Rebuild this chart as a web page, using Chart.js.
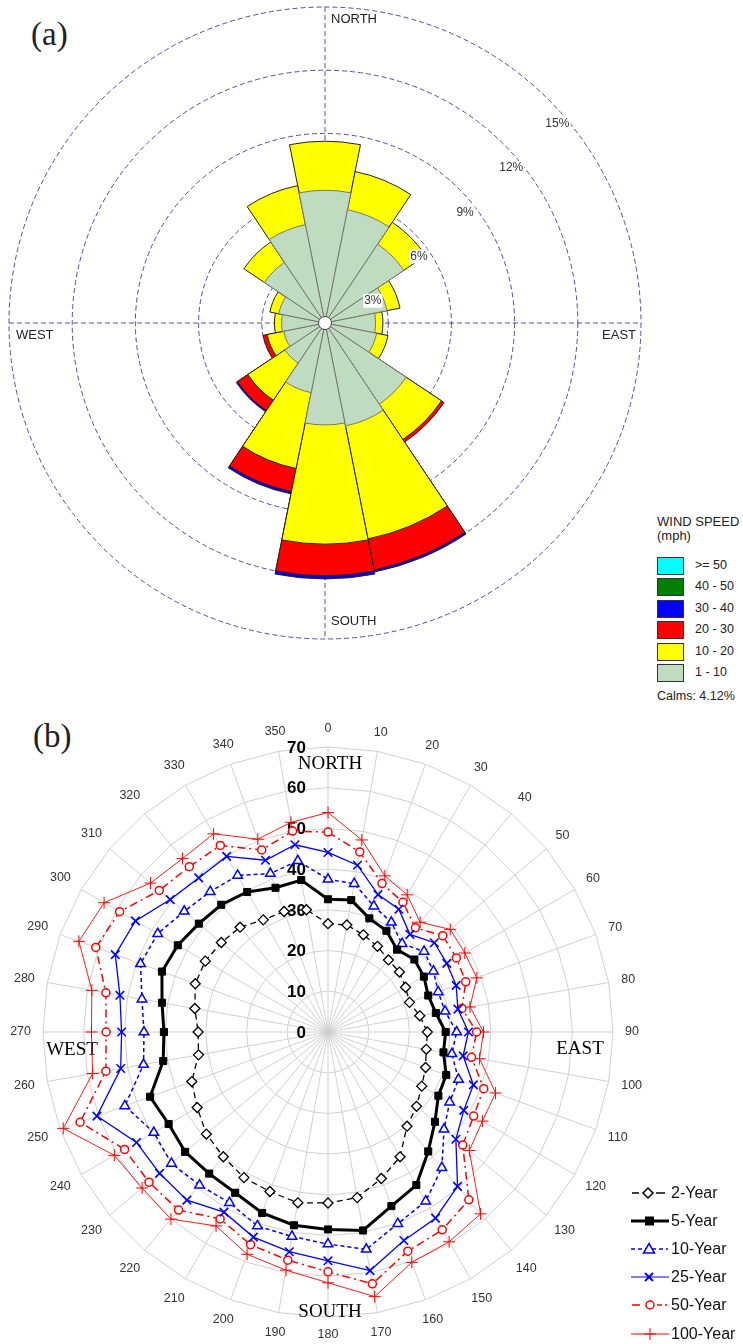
<!DOCTYPE html>
<html>
<head>
<meta charset="utf-8">
<script src="https://cdn.jsdelivr.net/npm/chart.js@4.4.1/dist/chart.umd.min.js"></script>
<style>
  body { margin: 0; width: 743px; height: 1344px; position: relative; overflow: hidden; background: #fff;
         font-family: "Liberation Sans", Arial, sans-serif; color: #222; }
  #roseChart { position: absolute; left: 0; top: 0; }
  #returnChart { position: absolute; left: 8px; top: 712px; }
  .tag { position: absolute; font-family: "Liberation Serif", "Times New Roman", serif; font-size: 33px; line-height: 33px; }
  .abs { position: absolute; white-space: nowrap; }
  .box { position: absolute; width: 25px; height: 16px; border: 1px solid #333; }
  #roseLegend { font-size: 13px; }
  #roseLegend .lab { font-size: 12.5px; }
  #periodLegend { font-size: 16px; color: #111; }
</style>
</head>
<body>
<div class="tag" style="left:31px; top:18px;">(a)</div>
<div class="tag" style="left:33px; top:720px;">(b)</div>

<canvas id="roseChart" width="650" height="646"></canvas>
<canvas id="returnChart" width="640" height="640"></canvas>

<div id="roseLegend"></div>
<div id="periodLegend"></div>

<script>
// ---- (a) wind rose, frequency in % per direction and speed bin ----
const roseDirections = ['N', 'NNE', 'NE', 'ENE', 'E', 'ESE', 'SE', 'SSE', 'S', 'SSW', 'SW', 'WSW', 'W', 'WNW', 'NW', 'NNW'];
const speed1to10  = [6.30, 5.48, 4.50, 3.00, 2.40, 2.50, 4.63, 4.98, 4.84, 3.37, 2.29, 2.00, 2.06, 2.24, 3.46, 4.76];
const speed10to20 = [2.33, 1.85, 1.25, 0.63, 0.35, 0.55, 2.02, 5.47, 5.66, 3.67, 2.12, 0.80, 0.34, 0.43, 1.17, 1.89];
const speed20to30 = [0, 0, 0, 0, 0, 0, 0.15, 1.50, 1.50, 1.12, 0.59, 0.20, 0, 0, 0, 0];
const speed30to40 = [0, 0, 0, 0, 0, 0, 0, 0.10, 0.15, 0.11, 0.07, 0, 0, 0, 0, 0];
const speed40to50 = [0, 0, 0, 0, 0, 0, 0, 0, 0, 0, 0, 0, 0, 0, 0, 0];
const speed50up   = [0, 0, 0, 0, 0, 0, 0, 0, 0, 0, 0, 0, 0, 0, 0, 0];
const speedLabels = ['1 - 10', '10 - 20', '20 - 30', '30 - 40', '40 - 50', '>= 50'];
const speedColors = ['#c0dcc0', '#ffff00', '#ff0000', '#0000ff', '#008000', '#00ffff'];
const calmsText = 'Calms: 4.12%';

// ---- (b) extreme wind speed per direction and return period ----
const angleLabels = ['0', '10', '20', '30', '40', '50', '60', '70', '80', '90', '100', '110',
  '120', '130', '140', '150', '160', '170', '180', '190', '200', '210', '220', '230',
  '240', '250', '260', '270', '280', '290', '300', '310', '320', '330', '340', '350'];
const year2   = [26.6, 26.7, 25.4, 24.3, 23.1, 22.9, 22.0, 21.3, 22.9, 24.4, 24.5, 25.5, 26.6, 28.4, 30.2, 35.4, 38.3, 41.3,
                 42.0, 42.6, 41.7, 41.3, 40.0, 39.0, 37.1, 35.6, 32.3, 31.9, 33.2, 34.7, 34.8, 34.2, 33.6, 31.8, 31.5, 30.5];
const year5   = [32.6, 32.9, 29.7, 28.7, 26.4, 27.7, 27.2, 26.2, 26.9, 28.9, 28.8, 30.9, 31.3, 34.3, 38.3, 43.4, 45.5, 49.5,
                 48.5, 48.2, 47.3, 45.6, 45.4, 45.8, 45.2, 46.5, 41.1, 40.3, 41.4, 43.4, 42.6, 41.4, 40.8, 39.7, 37.7, 37.9];
const year10  = [37.5, 37.0, 32.9, 31.1, 28.3, 30.8, 29.9, 28.8, 29.2, 31.6, 30.9, 34.1, 34.5, 37.2, 43.5, 48.0, 50.1, 54.2,
                 52.1, 51.0, 50.7, 48.4, 49.1, 50.2, 49.4, 53.1, 46.0, 45.2, 46.4, 49.0, 48.3, 46.1, 45.0, 44.4, 41.4, 42.7];
const year25  = [44.1, 41.6, 35.9, 34.8, 31.3, 34.1, 33.7, 33.5, 32.4, 34.5, 33.7, 38.0, 38.5, 41.0, 49.5, 52.8, 54.5, 59.5,
                 56.2, 54.8, 53.6, 51.1, 53.9, 54.0, 54.3, 60.4, 51.7, 50.7, 51.9, 55.6, 54.6, 50.6, 49.4, 49.8, 44.9, 46.7];
const year50  = [49.1, 44.9, 38.8, 36.8, 33.4, 36.8, 36.4, 36.0, 33.4, 36.5, 35.8, 40.7, 41.3, 43.2, 53.8, 56.1, 57.3, 62.8,
                 58.9, 56.9, 55.6, 53.0, 57.1, 57.4, 57.7, 64.8, 55.4, 54.5, 55.4, 60.7, 59.1, 54.1, 53.0, 52.9, 47.6, 50.1];
const year100 = [53.9, 47.9, 40.8, 38.9, 35.2, 39.2, 38.8, 38.9, 35.4, 38.2, 37.8, 43.8, 43.8, 45.3, 58.3, 59.5, 60.2, 66.0,
                 61.6, 59.4, 58.1, 55.0, 60.0, 59.6, 60.6, 69.2, 58.7, 58.1, 58.9, 65.1, 63.5, 56.9, 55.6, 56.2, 50.4, 52.3];
const periodLabels = ['2-Year', '5-Year', '10-Year', '25-Year', '50-Year', '100-Year'];

Chart.defaults.font.family = '"Liberation Sans", Arial, sans-serif';
Chart.defaults.animation = false;

const gridBlue = '#4c4cab';

// stacked rose: each layer is the running total, smallest layer drawn on top
const speedBins = [speed1to10, speed10to20, speed20to30, speed30to40, speed40to50, speed50up];
let running = roseDirections.map(() => 0);
const roseDatasets = speedBins.map((bin, k) => {
    running = running.map((v, i) => v + bin[i]);
    return {
        label: speedLabels[k],
        data: running.map((v, i) => (bin[i] > 0 ? v : 0)),
        backgroundColor: speedColors[k],
        borderColor: k === 0 ? '#777' : '#222',
        borderWidth: 1
    };
});

const roseDecor = {
    id: 'roseDecor',
    beforeDatasetsDraw(chart) {
        const r = chart.scales.r;
        const ctx = chart.ctx;
        const cx = r.xCenter, cy = r.yCenter, R = r.drawingArea;
        ctx.save();
        ctx.strokeStyle = gridBlue;
        ctx.lineWidth = 1;
        ctx.setLineDash([5, 3]);
        ctx.beginPath();
        ctx.moveTo(cx, cy - R); ctx.lineTo(cx, cy + R);
        ctx.moveTo(cx - R, cy); ctx.lineTo(cx + R, cy);
        ctx.stroke();
        ctx.setLineDash([]);
        ctx.fillStyle = '#222';
        ctx.font = '13px "Liberation Sans", Arial';
        ctx.textBaseline = 'middle';
        ctx.textAlign = 'left';
        ctx.fillText('NORTH', cx + 6, cy - R + 12);
        ctx.fillText('SOUTH', cx + 6, cy + R - 18);
        ctx.fillText('WEST', cx - R + 7, cy + 12);
        ctx.textAlign = 'right';
        ctx.fillText('EAST', cx + R - 5, cy + 12);
        ctx.restore();
    },
    afterDatasetsDraw(chart) {
        const r = chart.scales.r;
        const ctx = chart.ctx;
        const cx = r.xCenter, cy = r.yCenter;
        ctx.save();
        ctx.beginPath();
        ctx.arc(cx, cy, 6.5, 0, Math.PI * 2);
        ctx.fillStyle = '#fff';
        ctx.fill();
        ctx.strokeStyle = '#444';
        ctx.lineWidth = 1;
        ctx.stroke();
        // percentage labels just inside each ring, up to the north-east
        ctx.font = '12px "Liberation Sans", Arial';
        ctx.textAlign = 'center';
        ctx.textBaseline = 'middle';
        r.ticks.forEach(t => {
            if (t.value === 0) return;
            const d = r.getDistanceFromCenterForValue(t.value) - 10;
            const x = cx + 0.73 * d + 9;
            const y = cy - 0.7 * d + 15;
            const txt = t.value + '%';
            const w = ctx.measureText(txt).width;
            ctx.fillStyle = '#fff';
            ctx.fillRect(x - w / 2 - 1, y - 7, w + 2, 14);
            ctx.fillStyle = '#333';
            ctx.fillText(txt, x, y);
        });
        ctx.restore();
    }
};

new Chart(document.getElementById('roseChart'), {
    type: 'polarArea',
    data: { labels: roseDirections, datasets: roseDatasets },
    options: {
        responsive: false,
        layout: { padding: { left: 9, right: 9, top: 7, bottom: 7 } },
        plugins: { legend: { display: false }, tooltip: { enabled: false } },
        scales: {
            r: {
                min: 0,
                max: 15,
                startAngle: -11.25,
                ticks: { display: false, stepSize: 3 },
                grid: { circular: true, color: gridBlue, lineWidth: 1 },
                border: { dash: [5, 3] },
                angleLines: { display: false },
                pointLabels: { display: false }
            }
        }
    },
    plugins: [roseDecor]
});

// legend for the rose, top bin first
const roseLegend = document.getElementById('roseLegend');
let html = '<div class="abs" style="left:657px; top:514px;">WIND SPEED</div>' +
           '<div class="abs" style="left:657px; top:528px;">(mph)</div>';
for (let k = speedLabels.length - 1; k >= 0; k--) {
    const row = speedLabels.length - 1 - k;
    const top = 557 + row * 21.4;
    html += '<div class="box" style="left:657px; top:' + top + 'px; background:' + speedColors[k] + ';"></div>' +
            '<div class="abs lab" style="left:695px; top:' + (top + 1) + 'px;">' + speedLabels[k].replace('>', '&gt;') + '</div>';
}
html += '<div class="abs lab" style="left:657px; top:689px;">' + calmsText + '</div>';
roseLegend.innerHTML = html;

// ---- (b) radar ----
const periodStyles = [
    { borderColor: '#000', borderWidth: 1.3, borderDash: [6, 4], pointStyle: 'rectRot', pointRadius: 5, pointBackgroundColor: '#fff', pointBorderWidth: 1.3 },
    { borderColor: '#000', borderWidth: 3, borderDash: [], pointStyle: 'rect', pointRadius: 5, pointBackgroundColor: '#000', pointBorderWidth: 1 },
    { borderColor: '#0000ff', borderWidth: 1.5, borderDash: [4, 3], pointStyle: 'triangle', pointRadius: 5.5, pointBackgroundColor: '#fff', pointBorderWidth: 1.5 },
    { borderColor: '#0000ff', borderWidth: 1.3, borderDash: [], pointStyle: 'crossRot', pointRadius: 6, pointBackgroundColor: '#fff', pointBorderWidth: 1.6 },
    { borderColor: '#ff0000', borderWidth: 1.5, borderDash: [8, 4, 2, 4], pointStyle: 'circle', pointRadius: 4, pointBackgroundColor: '#fff', pointBorderWidth: 1.5 },
    { borderColor: '#ff0000', borderWidth: 0.9, borderDash: [], pointStyle: 'cross', pointRadius: 6, pointBackgroundColor: '#fff', pointBorderWidth: 1 }
];
const periodSeries = [year2, year5, year10, year25, year50, year100];

const radarDecor = {
    id: 'radarDecor',
    beforeDatasetsDraw(chart) {
        const r = chart.scales.r;
        const ctx = chart.ctx;
        const cx = r.xCenter, cy = r.yCenter;
        ctx.save();
        ctx.textAlign = 'center';
        ctx.textBaseline = 'middle';
        ctx.fillStyle = '#333';
        ctx.font = '12.5px "Liberation Sans", Arial';
        chart.data.labels.forEach((lab, i) => {
            const a = r.getIndexAngle(i);
            const w = ctx.measureText(lab).width;
            const ext = Math.abs(Math.sin(a)) * w / 2 + Math.abs(Math.cos(a)) * 6;
            const p = r.getPointPosition(i, r.drawingArea + 12 + ext);
            ctx.fillText(lab, p.x, p.y);
        });
        ctx.fillStyle = '#000';
        ctx.font = '19px "Liberation Serif", "Times New Roman", serif';
        ctx.fillText('NORTH', cx + 2, cy - 268);
        ctx.fillText('SOUTH', cx + 2, cy + 280);
        ctx.fillText('WEST', cx - 256, cy + 18);
        ctx.fillText('EAST', cx + 252, cy + 17);
        ctx.textAlign = 'right';
        ctx.font = 'bold 17px "Liberation Sans", Arial';
        r.ticks.forEach(t => {
            ctx.fillText(String(t.value), cx - 22, cy - r.getDistanceFromCenterForValue(t.value) + 1);
        });
        ctx.restore();
    }
};

new Chart(document.getElementById('returnChart'), {
    type: 'radar',
    data: {
        labels: angleLabels,
        datasets: periodSeries.map((s, k) => Object.assign({
            label: periodLabels[k],
            data: s,
            fill: false,
            pointBorderColor: periodStyles[k].borderColor
        }, periodStyles[k]))
    },
    options: {
        responsive: false,
        layout: { padding: 35 },
        plugins: { legend: { display: false }, tooltip: { enabled: false } },
        elements: { line: { tension: 0 } },
        scales: {
            r: {
                min: 0,
                max: 70,
                ticks: { display: false, stepSize: 10 },
                pointLabels: { display: false },
                grid: { color: '#d0d0d0', lineWidth: 1 },
                angleLines: { color: '#d0d0d0', lineWidth: 1 }
            }
        }
    },
    plugins: [radarDecor]
});

// legend for the return periods
const legendIcons = [
    '<line x1="1" y1="9" x2="8" y2="9" stroke="#000" stroke-width="1.5"/><polygon points="17,4 22,9 17,14 12,9" fill="#fff" stroke="#000" stroke-width="1.5"/><line x1="25" y1="9" x2="34" y2="9" stroke="#000" stroke-width="1.5"/>',
    '<line x1="0" y1="9" x2="38" y2="9" stroke="#000" stroke-width="3"/><rect x="14" y="4.5" width="9" height="9" fill="#000"/>',
    '<line x1="0" y1="9" x2="37" y2="9" stroke="#00f" stroke-width="1.5" stroke-dasharray="4 3"/><polygon points="18,3.5 23.5,13 12.5,13" fill="#fff" stroke="#00f" stroke-width="1.5"/>',
    '<line x1="0" y1="9" x2="38" y2="9" stroke="#00f" stroke-width="1.2"/><line x1="14" y1="5" x2="22" y2="13" stroke="#00f" stroke-width="2"/><line x1="22" y1="5" x2="14" y2="13" stroke="#00f" stroke-width="2"/>',
    '<line x1="1" y1="9" x2="9" y2="9" stroke="#f00" stroke-width="1.5"/><circle cx="19" cy="9" r="4" fill="#fff" stroke="#f00" stroke-width="1.5"/><line x1="26" y1="9" x2="31" y2="9" stroke="#f00" stroke-width="1.5"/><line x1="34" y1="9" x2="36" y2="9" stroke="#f00" stroke-width="1.5"/>',
    '<line x1="0" y1="9" x2="38" y2="9" stroke="#f00" stroke-width="1"/><line x1="19" y1="3" x2="19" y2="15" stroke="#f00" stroke-width="1"/><line x1="13" y1="9" x2="25" y2="9" stroke="#f00" stroke-width="1"/>'
];
let lhtml = '';
periodLabels.forEach((lab, k) => {
    const cy = 1193 + k * 28.1;
    lhtml += '<svg class="abs" style="left:631px; top:' + (cy - 9) + 'px;" width="40" height="18">' + legendIcons[k] + '</svg>' +
             '<div class="abs" style="left:671px; top:' + (cy - 10) + 'px; line-height:20px;">' + lab + '</div>';
});
document.getElementById('periodLegend').innerHTML = lhtml;
</script>
</body>
</html>
